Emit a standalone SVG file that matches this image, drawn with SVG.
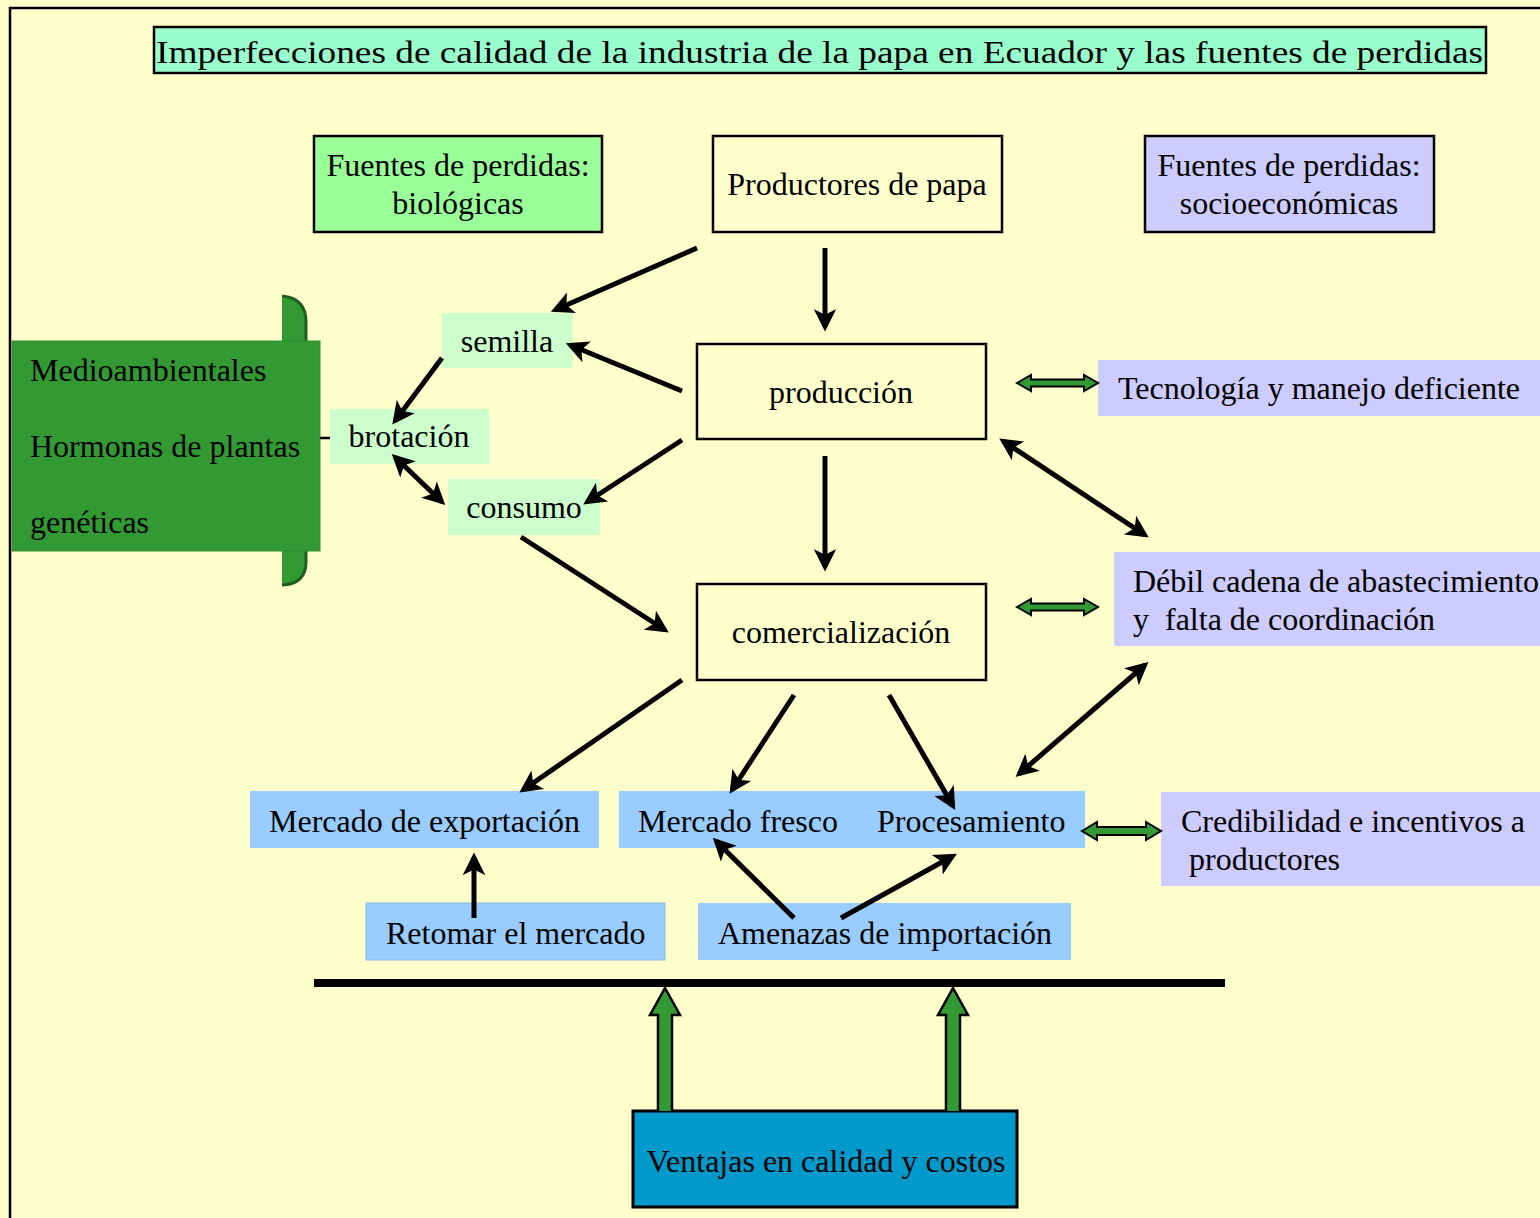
<svg xmlns="http://www.w3.org/2000/svg" width="1540" height="1218" viewBox="0 0 1540 1218">
<defs>
<style>
text{font-family:"Liberation Serif","Times New Roman",serif;fill:#000;font-size:32px}
.c{text-anchor:middle}
.box{stroke:#000;stroke-width:2.5}
.ln{stroke:#000;stroke-width:5;fill:none}
.ga{fill:#339933;stroke:#000;stroke-width:2.5;stroke-linejoin:miter}
.gd{fill:#339933;stroke:#000;stroke-width:2}
</style>
<marker id="ah" viewBox="0 0 10 10" refX="8" refY="5" markerWidth="5" markerHeight="4.5" orient="auto-start-reverse" markerUnits="strokeWidth">
<path d="M0,0 L10,5 L0,10 L2.5,5 Z" fill="#000"/>
</marker>
</defs>
<rect x="0" y="0" width="1540" height="1218" fill="#FFFFCC"/>
<path d="M10,1218 L10,8 L1540,8" fill="none" stroke="#000" stroke-width="2.5"/>

<g id="title">
<rect x="154" y="27" width="1332" height="46" fill="#99FFCC" class="box"/>
<text x="156" y="63" font-size="37" textLength="1327" lengthAdjust="spacingAndGlyphs">Imperfecciones de calidad de la industria de la papa en Ecuador y las fuentes de perdidas</text>
</g>

<g id="fuentes-bio">
<rect x="314" y="136" width="288" height="96" fill="#99FF99" class="box"/>
<text x="458" y="176" class="c">Fuentes de perdidas:</text>
<text x="458" y="214" class="c">biológicas</text>
</g>

<g id="productores">
<rect x="713" y="136" width="289" height="96" fill="#FFFFCC" class="box"/>
<text x="857" y="195" class="c">Productores de papa</text>
</g>

<g id="fuentes-socio">
<rect x="1145" y="136" width="289" height="96" fill="#CCCCFF" class="box"/>
<text x="1289" y="176" class="c">Fuentes de perdidas:</text>
<text x="1289" y="214" class="c">socioeconómicas</text>
</g>

<g id="biologicas-lista">
<path d="M282,341 L282,296 Q306,298 306,322 L306,341 Z" fill="#339933"/>
<path d="M282,296 Q306,298 306,322 L306,341" fill="none" stroke="#1E5E1E" stroke-width="3"/>
<path d="M282,551 L306,551 L306,562 Q306,584 282,585 Z" fill="#339933"/>
<path d="M306,551 L306,562 Q306,584 282,585" fill="none" stroke="#1E5E1E" stroke-width="3"/>
<rect x="12" y="341" width="308" height="210" fill="#339933" stroke="#2E8B2E" stroke-width="1"/>
<text x="30" y="381">Medioambientales</text>
<text x="30" y="457">Hormonas de plantas</text>
<text x="30" y="533">genéticas</text>
<line x1="320" y1="438" x2="330" y2="438" stroke="#000" stroke-width="2.5"/>
</g>

<g id="semilla">
<rect x="442" y="313" width="131" height="55" fill="#CCFFCC"/>
<text x="507" y="352" class="c">semilla</text>
</g>
<g id="brotacion">
<rect x="330" y="409" width="159" height="55" fill="#CCFFCC"/>
<text x="409" y="447" class="c">brotación</text>
</g>
<g id="consumo">
<rect x="448" y="479" width="152" height="56" fill="#CCFFCC"/>
<text x="524" y="518" class="c">consumo</text>
</g>

<g id="produccion">
<rect x="697" y="344" width="289" height="95" fill="#FFFFCC" class="box"/>
<text x="841" y="403" class="c">producción</text>
</g>
<g id="comercializacion">
<rect x="697" y="584" width="289" height="96" fill="#FFFFCC" class="box"/>
<text x="841" y="643" class="c">comercialización</text>
</g>

<g id="tecnologia">
<rect x="1098" y="360" width="442" height="56" fill="#CCCCFF"/>
<text x="1118" y="399">Tecnología y manejo deficiente</text>
</g>
<g id="debil-cadena">
<rect x="1114" y="552" width="426" height="94" fill="#CCCCFF"/>
<text x="1133" y="592">Débil cadena de abastecimiento</text>
<text x="1133" y="630" xml:space="preserve">y  falta de coordinación</text>
</g>
<g id="credibilidad">
<rect x="1161" y="792" width="379" height="94" fill="#CCCCFF"/>
<text x="1181" y="832">Credibilidad e incentivos a</text>
<text x="1189" y="870">productores</text>
</g>

<g id="exportacion">
<rect x="250" y="791" width="349" height="57" fill="#99CCFF"/>
<text x="269" y="832">Mercado de exportación</text>
</g>
<g id="fresco-procesamiento">
<rect x="619" y="791" width="466" height="57" fill="#99CCFF"/>
<text x="638" y="832">Mercado fresco</text>
<text x="877" y="832">Procesamiento</text>
</g>
<g id="retomar">
<rect x="366" y="903" width="299" height="57" fill="#99CCFF" stroke="#8FB8E0" stroke-width="1"/>
<text x="386" y="944">Retomar el mercado</text>
</g>
<g id="amenazas">
<rect x="698" y="903" width="373" height="57" fill="#99CCFF"/>
<text x="718" y="944">Amenazas de importación</text>
</g>

<g id="ventajas">
<rect x="633" y="1111" width="384" height="96" fill="#0099CC" stroke="#000" stroke-width="3"/>
<text x="826" y="1172" class="c">Ventajas en calidad y costos</text>
</g>

<g id="connectors">
<line class="ln" x1="697" y1="248" x2="555" y2="310" marker-end="url(#ah)"/>
<line class="ln" x1="825" y1="248" x2="825" y2="327" marker-end="url(#ah)"/>
<line class="ln" x1="682" y1="391" x2="570" y2="345" marker-end="url(#ah)"/>
<line class="ln" x1="442" y1="358" x2="395" y2="421" marker-end="url(#ah)"/>
<line class="ln" x1="682" y1="440" x2="587" y2="502" marker-end="url(#ah)"/>
<line class="ln" x1="395" y1="457" x2="442" y2="502" marker-start="url(#ah)" marker-end="url(#ah)"/>
<line class="ln" x1="825" y1="456" x2="825" y2="567" marker-end="url(#ah)"/>
<line class="ln" x1="521" y1="537" x2="665" y2="630" marker-end="url(#ah)"/>
<line class="ln" x1="1003" y1="441" x2="1145" y2="535" marker-start="url(#ah)" marker-end="url(#ah)"/>
<line class="ln" x1="682" y1="680" x2="523" y2="790" marker-end="url(#ah)"/>
<line class="ln" x1="794" y1="695" x2="732" y2="790" marker-end="url(#ah)"/>
<line class="ln" x1="889" y1="695" x2="953" y2="806" marker-end="url(#ah)"/>
<line class="ln" x1="1145" y1="665" x2="1019" y2="774" marker-start="url(#ah)" marker-end="url(#ah)"/>
<line class="ln" x1="474" y1="918" x2="474" y2="857" marker-end="url(#ah)"/>
<line class="ln" x1="794" y1="918" x2="716" y2="841" marker-end="url(#ah)"/>
<line class="ln" x1="841" y1="918" x2="953" y2="856" marker-end="url(#ah)"/>

<path class="gd" d="M1017,383 L1031,375 L1031,379.5 L1084,379.5 L1084,375 L1098,383 L1084,391 L1084,386.5 L1031,386.5 L1031,391 Z"/>
<path class="gd" d="M1017,607 L1031,599 L1031,603.5 L1084,603.5 L1084,599 L1098,607 L1084,615 L1084,610.5 L1031,610.5 L1031,615 Z"/>
<path class="gd" d="M1082,831 L1097,822 L1097,827 L1146,827 L1146,822 L1161,831 L1146,840 L1146,835 L1097,835 L1097,840 Z"/>

<line x1="314" y1="983" x2="1225" y2="983" stroke="#000" stroke-width="8"/>

<path class="ga" d="M658,1111 L658,1015 L650,1015 L665,988 L680,1015 L672,1015 L672,1111"/>
<path class="ga" d="M946,1111 L946,1015 L938,1015 L953,988 L968,1015 L960,1015 L960,1111"/>
</g>
</svg>
